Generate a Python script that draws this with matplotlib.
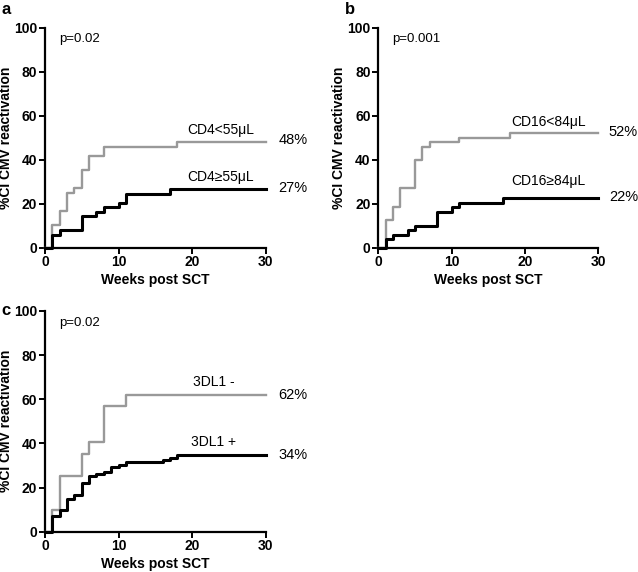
import numpy as np
import matplotlib
matplotlib.use("Agg")
import matplotlib.pyplot as plt

plt.rcParams['font.family'] = ['Liberation Sans', 'DejaVu Sans']

# Panel a: CD4 counts
a_low_t = [0, 1, 2, 3, 4, 5, 6, 8, 18, 30]
a_low_v = [0, 10.3, 16.7, 25.0, 27.3, 35.3, 41.8, 45.9, 47.9, 47.9]
a_high_t = [0, 1, 2, 5, 7, 8, 10, 11, 17, 30]
a_high_v = [0, 5.9, 8.2, 14.2, 16.2, 18.3, 20.5, 24.4, 26.5, 26.5]

# Panel b: CD16 counts
b_low_t = [0, 1, 2, 3, 5, 6, 7, 11, 18, 30]
b_low_v = [0, 12.4, 18.6, 27.0, 39.7, 45.9, 47.9, 49.8, 52.0, 52.0]
b_high_t = [0, 1, 2, 4, 5, 8, 10, 11, 17, 30]
b_high_v = [0, 3.9, 5.9, 8.0, 10.0, 16.2, 18.3, 20.5, 22.4, 22.4]

# Panel c: KIR 3DL1
c_neg_t = [0, 1, 2, 5, 6, 8, 11, 30]
c_neg_v = [0, 10.0, 25.2, 35.0, 40.5, 57.0, 62.0, 62.0]
c_pos_t = [0, 1, 2, 3, 4, 5, 6, 7, 8, 9, 10, 11, 16, 17, 18, 30]
c_pos_v = [0, 7.3, 10.0, 14.7, 16.8, 21.9, 25.2, 26.3, 27.2, 29.2, 30.4,
           31.4, 32.5, 33.5, 34.6, 34.6]

panels = [
    # letter, axes rect, p-value, gray series, black series, labels, percents
    ('a', [0.0705, 0.567, 0.346, 0.3846], 'p=0.02',
     (a_low_t, a_low_v), (a_high_t, a_high_v),
     [('CD4<55\u03bcL', 23.9, 53.5), ('CD4\u226555\u03bcL', 23.9, 32.0)],
     [('48%', 33.7, 49.0), ('27%', 33.7, 27.3)]),
    ('b', [0.593, 0.567, 0.345, 0.3846], 'p=0.001',
     (b_low_t, b_low_v), (b_high_t, b_high_v),
     [('CD16<84\u03bcL', 23.2, 57.0), ('CD16\u226584\u03bcL', 23.2, 30.3)],
     [('52%', 33.4, 52.5), ('22%', 33.4, 23.0)]),
    ('c', [0.0705, 0.0705, 0.346, 0.386], 'p=0.02',
     (c_neg_t, c_neg_v), (c_pos_t, c_pos_v),
     [('3DL1 -', 22.9, 68.0), ('3DL1 +', 22.9, 40.8)],
     [('62%', 33.7, 62.0), ('34%', 33.7, 34.7)]),
]

fig = plt.figure(figsize=(6.38, 5.72), dpi=100)

for letter, rect, pval, gray, black, labels, pcts in panels:
    ax = fig.add_axes(rect)
    ax.step(gray[0], gray[1], where='post', color='#999999', lw=1.7,
            clip_on=False, zorder=3)
    ax.step(black[0], black[1], where='post', color='black', lw=2.2,
            clip_on=False, zorder=4)
    ax.set_xlim(0, 30)
    ax.set_ylim(0, 100)
    ax.set_xticks([0, 10, 20, 30])
    ax.set_yticks([0, 20, 40, 60, 80, 100])
    for s in ['top', 'right']:
        ax.spines[s].set_visible(False)
    for s in ['left', 'bottom']:
        ax.spines[s].set_linewidth(1.6)
    ax.tick_params(width=1.4, length=4, labelsize=10, pad=1.5)
    for lab in ax.get_xticklabels() + ax.get_yticklabels():
        lab.set_fontweight('bold')
    ax.set_xlabel('Weeks post SCT', fontsize=10, fontweight='bold', labelpad=3)
    ax.set_ylabel('%CI CMV reactivation', fontsize=10, fontweight='bold',
                  labelpad=1)
    ax.text(1.9, 94.7, pval, fontsize=9.5, va='center', ha='left')
    for txt, x, y in labels:
        ax.text(x, y, txt, fontsize=10, ha='center', va='center')
    for txt, x, y in pcts:
        ax.text(x, y, txt, fontsize=10.5, ha='center', va='center',
                clip_on=False)

fig.text(0.002, 0.983, 'a', fontsize=12, fontweight='bold', va='center')
fig.text(0.541, 0.983, 'b', fontsize=12, fontweight='bold', va='center')
fig.text(0.002, 0.458, 'c', fontsize=12, fontweight='bold', va='center')

fig.savefig('out.png', dpi=100)
